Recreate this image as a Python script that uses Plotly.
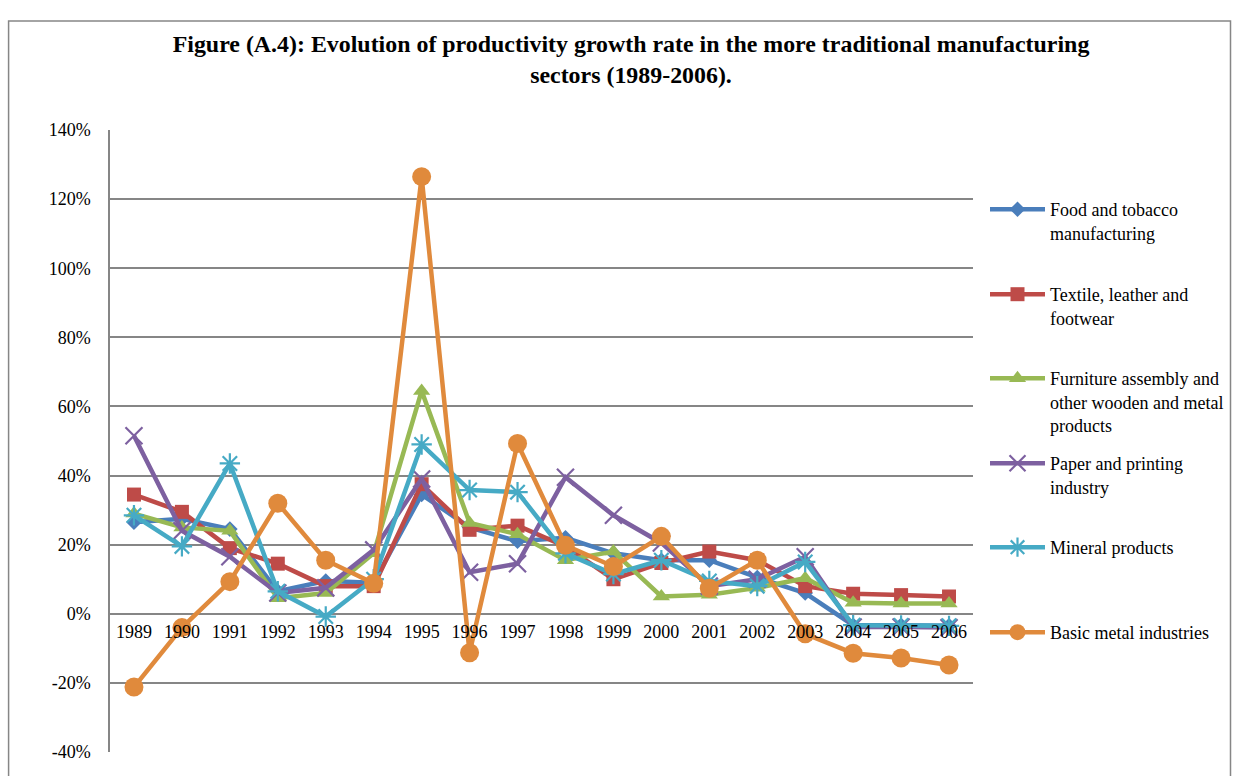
import plotly.graph_objects as go

# Productivity growth rate (%) by sector, 1989-2006
years = [str(y) for y in range(1989, 2007)]

food = [26.5, 27.5, 24.5, 6.5, 9.5, 9.0, 34.5, 25.0, 21.0, 22.0, 17.5, 15.5, 15.5, 10.5, 6.0, -3.3, -3.3, -3.5]
textile = [34.5, 29.5, 19.0, 14.5, 8.0, 8.0, 37.5, 24.3, 25.5, 19.5, 10.0, 14.7, 18.0, 15.5, 8.0, 5.8, 5.4, 5.0]
furniture = [29.0, 25.0, 24.0, 4.5, 6.0, 17.5, 64.5, 26.3, 23.0, 15.5, 18.0, 5.0, 5.5, 7.5, 10.3, 3.2, 3.0, 3.0]
paper = [51.5, 24.0, 16.5, 6.0, 7.5, 18.5, 39.0, 12.0, 14.5, 39.5, 28.5, 20.5, 8.0, 10.0, 16.5, -3.8, -3.8, -4.0]
mineral = [28.5, 19.5, 43.5, 6.5, -0.8, 10.0, 49.0, 35.8, 35.2, 17.5, 11.5, 15.5, 9.5, 8.0, 15.0, -3.3, -3.4, -3.5]
basic_metal = [-21.2, -4.0, 9.3, 32.0, 15.5, 8.8, 126.5, -11.3, 49.3, 19.8, 13.7, 22.4, 7.4, 15.5, -5.8, -11.4, -12.8, -14.8]

sector_names = [
    "Food and tobacco<br>manufacturing",
    "Textile, leather and<br>footwear",
    "Furniture assembly and<br>other wooden and metal<br>products",
    "Paper and printing<br>industry",
    "Mineral products",
    "Basic metal industries",
]

y_ticks = [-40, -20, 0, 20, 40, 60, 80, 100, 120, 140]

W, H = 1241, 776
PLOT_L, PLOT_R, PLOT_T, PLOT_B = 110, 978, 130, 752
SERIF = "Liberation Serif, Times New Roman, serif"
GRID = "#868686"

colors = ["#4A7EBB", "#BE4B48", "#98B954", "#7D60A0", "#46AAC5", "#E08A3C"]
markers = [
    dict(symbol="diamond", size=12),
    dict(symbol="square", size=14),
    dict(symbol="triangle-up", size=15),
    dict(symbol="x-thin-open", size=17, line=dict(width=2.2)),
    dict(symbol="asterisk-open", size=17, line=dict(width=2.2)),
    dict(symbol="circle", size=19),
]
values = [food, textile, furniture, paper, mineral, basic_metal]

# legend symbol rows (pixel y of each entry's first line)
legend_rows = [210, 295, 379, 464, 548, 633]
legend_ids = ["legend", "legend2", "legend3", "legend4", "legend5", "legend6"]

fig = go.Figure()
for name, vals, col, mk, lid in zip(sector_names, values, colors, markers, legend_ids):
    mk = dict(mk)
    mk["color"] = col
    if "line" in mk:
        mk["line"] = dict(mk["line"], color=col)
    fig.add_trace(go.Scatter(
        x=years, y=[v / 100 for v in vals], name=name, mode="lines+markers",
        line=dict(color=col, width=4.5), marker=mk, legend=lid,
    ))


def px_x(px):
    return (px - PLOT_L) / (PLOT_R - PLOT_L)


def px_y(py):
    return (PLOT_B - py) / (PLOT_B - PLOT_T)


layout_legends = {}
for lid, row in zip(legend_ids, legend_rows):
    layout_legends[lid] = dict(
        x=985 / W, xref="container", xanchor="left",
        y=1 - (row - 19) / H, yref="container", yanchor="top",
        valign="top", itemwidth=55, bgcolor="rgba(0,0,0,0)", borderwidth=0,
        font=dict(family=SERIF, size=18, color="black"),
    )

fig.update_layout(
    width=W, height=H,
    margin=dict(l=PLOT_L, r=W - PLOT_R, t=PLOT_T, b=H - PLOT_B),
    paper_bgcolor="white", plot_bgcolor="white",
    font=dict(family=SERIF, size=18, color="black"),
    title=dict(
        text="<b>Figure (A.4): Evolution of productivity growth rate in the more traditional manufacturing<br>sectors (1989-2006).</b>",
        x=631 / W, xref="container", xanchor="center",
        y=1 - 52 / H, yref="container", yanchor="top",
        font=dict(family=SERIF, size=23.9, color="black"),
    ),
    showlegend=True,
    **layout_legends,
)

fig.update_xaxes(
    type="category", range=[-0.5, len(years) - 0.5],
    anchor="free", position=px_y(614),
    showgrid=False, showline=False, ticks="", zeroline=False,
    ticklabelstandoff=5,
    tickfont=dict(family=SERIF, size=18, color="black"),
)
fig.update_yaxes(
    range=[-0.4, 1.4], tickvals=[v / 100 for v in y_ticks],
    ticktext=[f"{v}%" for v in y_ticks],
    showgrid=True, gridcolor=GRID, gridwidth=1.5,
    zeroline=True, zerolinecolor=GRID, zerolinewidth=1.5,
    showline=True, linecolor=GRID, linewidth=1.5, ticks="",
    ticklabelstandoff=14,
    tickfont=dict(family=SERIF, size=18, color="black"),
)

# chart frame
fig.add_shape(
    type="rect", xref="paper", yref="paper",
    x0=px_x(8), x1=px_x(1237), y0=px_y(790), y1=px_y(21),
    line=dict(color=GRID, width=1.5), fillcolor="rgba(0,0,0,0)", layer="below",
)

fig.write_html("out.html")
